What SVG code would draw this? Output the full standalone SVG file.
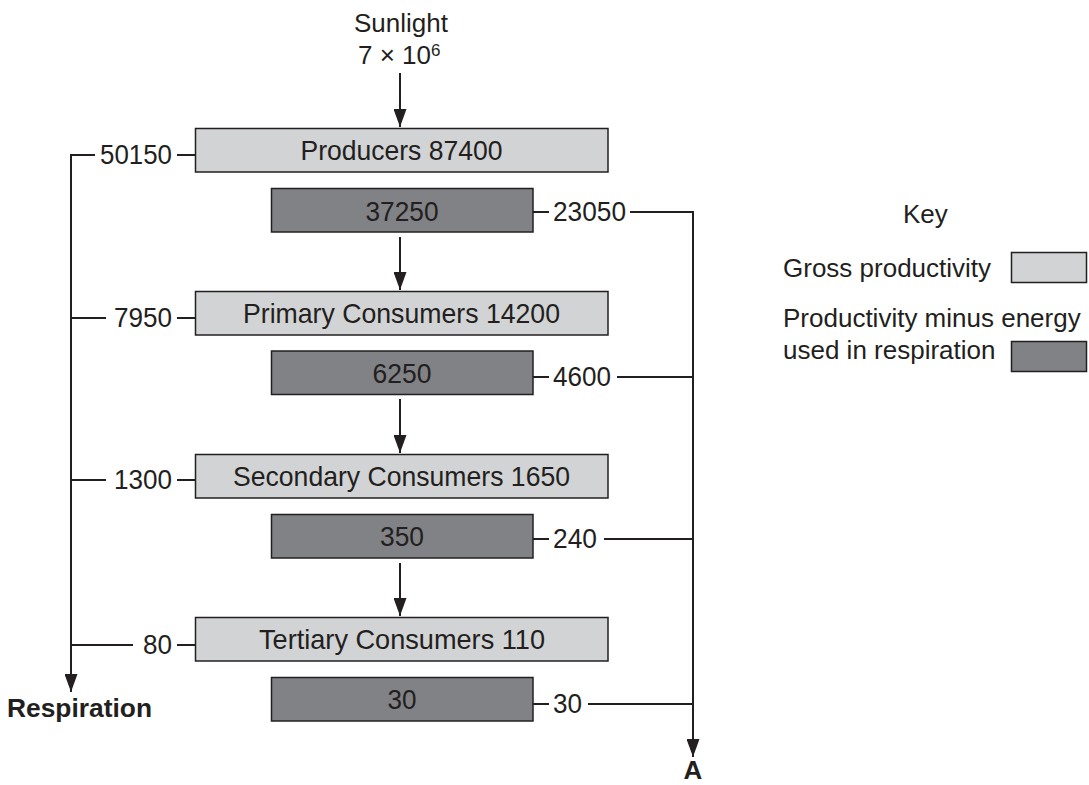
<svg xmlns="http://www.w3.org/2000/svg" width="1089" height="785" viewBox="0 0 1089 785">
  <defs>
    <style>
      text { font-family: "Liberation Sans", Arial, Helvetica, sans-serif; font-size: 26px; fill: #231f20; }
      .n { font-size: 28px; }
      .c { text-anchor: middle; }
      .e { text-anchor: end; }
      .b { font-weight: bold; }
      .light { fill: #d1d3d4; stroke: #231f20; stroke-width: 1.5; }
      .dark { fill: #808285; stroke: #231f20; stroke-width: 1.5; }
      .ln { fill: none; stroke: #231f20; stroke-width: 2; }
      .arr { fill: none; stroke: #231f20; stroke-width: 2; marker-end: url(#ah); }
    </style>
    <marker id="ah" viewBox="0 0 18 13" refX="18" refY="6.5" markerWidth="18" markerHeight="13" markerUnits="userSpaceOnUse" orient="auto">
      <path d="M0,0 L18,6.5 L0,13 Z" fill="#231f20"/>
    </marker>
  </defs>

  <rect width="1089" height="785" fill="#ffffff"/>

  <g id="sunlight">
    <text class="c" x="401" y="32">Sunlight</text>
    <text x="358" y="64">7 × 10<tspan font-size="17" dy="-8">6</tspan></text>
  </g>

  <g id="producers">
    <rect class="light" x="195.5" y="128.5" width="412.5" height="43.5"/>
    <text class="n c" x="401.5" y="160" textLength="202" lengthAdjust="spacingAndGlyphs">Producers 87400</text>
  </g>
  <g id="producers-net">
    <rect class="dark" x="271.5" y="188.5" width="261.5" height="43.5"/>
    <text class="n c" x="402" y="221" textLength="73" lengthAdjust="spacingAndGlyphs">37250</text>
  </g>
  <g id="primary">
    <rect class="light" x="195.5" y="291.5" width="412.5" height="43.5"/>
    <text class="n c" x="401.5" y="323" textLength="317" lengthAdjust="spacingAndGlyphs">Primary Consumers 14200</text>
  </g>
  <g id="primary-net">
    <rect class="dark" x="271.5" y="351" width="261.5" height="43.5"/>
    <text class="n c" x="402" y="383" textLength="59" lengthAdjust="spacingAndGlyphs">6250</text>
  </g>
  <g id="secondary">
    <rect class="light" x="195.5" y="454.5" width="412.5" height="43.5"/>
    <text class="n c" x="401.5" y="486" textLength="337" lengthAdjust="spacingAndGlyphs">Secondary Consumers 1650</text>
  </g>
  <g id="secondary-net">
    <rect class="dark" x="271.5" y="514.5" width="261.5" height="43.5"/>
    <text class="n c" x="402" y="546" textLength="44" lengthAdjust="spacingAndGlyphs">350</text>
  </g>
  <g id="tertiary">
    <rect class="light" x="195.5" y="617.5" width="412.5" height="43.5"/>
    <text class="n c" x="402" y="649" textLength="286" lengthAdjust="spacingAndGlyphs">Tertiary Consumers 110</text>
  </g>
  <g id="tertiary-net">
    <rect class="dark" x="271.5" y="677.5" width="261.5" height="43.5"/>
    <text class="n c" x="402" y="709" textLength="29" lengthAdjust="spacingAndGlyphs">30</text>
  </g>

  <g id="respiration">
    <text class="b" x="7" y="717" font-size="25" textLength="145" lengthAdjust="spacingAndGlyphs">Respiration</text>
  </g>
  <g id="A">
    <text class="b c" x="693" y="779" font-size="27">A</text>
  </g>

  <g id="key">
    <text x="903" y="223">Key</text>
    <text x="783" y="277">Gross productivity</text>
    <rect class="light" x="1011.5" y="252.5" width="75" height="30"/>
    <text x="783" y="327">Productivity minus energy</text>
    <text x="783" y="359">used in respiration</text>
    <rect class="dark" x="1011.5" y="341.5" width="75" height="30"/>
  </g>

  <g id="connectors">
    <line class="arr" x1="400" y1="73" x2="400" y2="127"/>
    <line class="arr" x1="400" y1="237" x2="400" y2="290"/>
    <line class="arr" x1="400" y1="399" x2="400" y2="453"/>
    <line class="arr" x1="400" y1="563" x2="400" y2="616"/>

    <polyline class="arr" points="95,155 71,155 71,692"/>
    <line class="ln" x1="177" y1="155" x2="196" y2="155"/>
    <line class="ln" x1="71" y1="318" x2="106" y2="318"/>
    <line class="ln" x1="177" y1="318" x2="196" y2="318"/>
    <line class="ln" x1="71" y1="480" x2="106" y2="480"/>
    <line class="ln" x1="177" y1="480" x2="196" y2="480"/>
    <line class="ln" x1="71" y1="645" x2="133" y2="645"/>
    <line class="ln" x1="177" y1="645" x2="196" y2="645"/>

    <polyline class="arr" points="630,212 693,212 693,757"/>
    <line class="ln" x1="533" y1="212" x2="549" y2="212"/>
    <line class="ln" x1="533" y1="377" x2="549" y2="377"/>
    <line class="ln" x1="617" y1="377" x2="693" y2="377"/>
    <line class="ln" x1="533" y1="539" x2="549" y2="539"/>
    <line class="ln" x1="604" y1="539" x2="693" y2="539"/>
    <line class="ln" x1="533" y1="704" x2="549" y2="704"/>
    <line class="ln" x1="588" y1="704" x2="693" y2="704"/>
  </g>

  <g id="labels">
    <text class="n e" x="172" y="164" textLength="72" lengthAdjust="spacingAndGlyphs">50150</text>
    <text class="n e" x="172" y="327" textLength="58" lengthAdjust="spacingAndGlyphs">7950</text>
    <text class="n e" x="172" y="489" textLength="58" lengthAdjust="spacingAndGlyphs">1300</text>
    <text class="n e" x="172" y="654" textLength="29" lengthAdjust="spacingAndGlyphs">80</text>
    <text class="n" x="553" y="221" textLength="73" lengthAdjust="spacingAndGlyphs">23050</text>
    <text class="n" x="553" y="386" textLength="58" lengthAdjust="spacingAndGlyphs">4600</text>
    <text class="n" x="553" y="548" textLength="44" lengthAdjust="spacingAndGlyphs">240</text>
    <text class="n" x="553" y="713" textLength="29" lengthAdjust="spacingAndGlyphs">30</text>
  </g>
</svg>
